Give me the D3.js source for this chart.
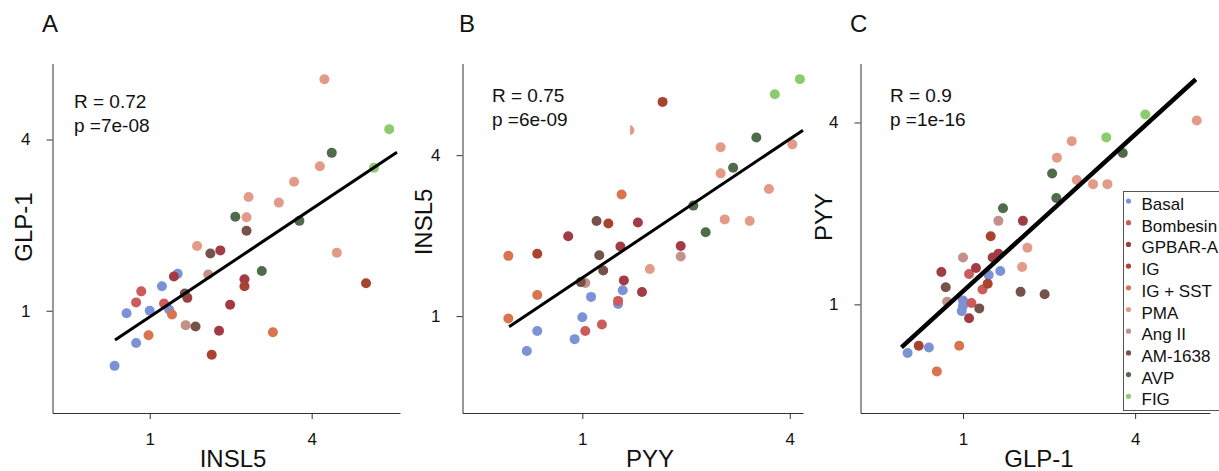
<!DOCTYPE html>
<html>
<head>
<meta charset="utf-8">
<script src="https://cdn.jsdelivr.net/npm/d3@7"></script>
<style>
body { margin: 0; background: #fff; }
svg { font-family: "Liberation Sans", Arial, sans-serif; }
</style>
</head>
<body>
<svg id="chart" width="1219" height="471"></svg>
<script>
// treatment groups and their colours (legend order = draw order)
const GROUPS = ["Basal", "Bombesin", "GPBAR-A", "IG", "IG + SST", "PMA", "Ang II", "AM-1638", "AVP", "FIG"];
const GROUP_COLORS = ["#7b93d6", "#cd5b5c", "#a33b44", "#a8432f", "#d9744f", "#e39b88", "#c2918a", "#75524a", "#4f6b49", "#8ecb6f"];

const PANEL_LETTERS = ["A", "B", "C"];
const X_TITLES = ["INSL5", "PYY", "GLP-1"];
const Y_TITLES = ["GLP-1", "INSL5", "PYY"];
const R_LABELS = ["R = 0.72", "R = 0.75", "R = 0.9"];
const P_LABELS = ["p =7e-08", "p =6e-09", "p =1e-16"];
const TICK_VALUES = [1, 4];

// axis extents (fold change, log2 axes)
const X_DOMAINS = [[0.435, 8.52], [0.449, 4.37], [0.438, 7.31]];
const Y_DOMAINS = [[0.437, 7.40], [0.434, 8.81], [0.437, 6.27]];

// regression line ends: [x0, y0, x1, y1]
const FIT_LINES = [[0.743, 0.789, 8.30, 3.61], [0.613, 0.912, 4.37, 4.96], [0.609, 0.721, 6.52, 5.56]];

// panel A: x = INSL5, y = GLP-1
const pointsA = [
    ["Basal", 0.74, 0.64], ["Basal", 0.82, 0.98], ["Basal", 0.89, 0.77], ["Basal", 1.00, 1.00],
    ["Basal", 1.11, 1.22], ["Basal", 1.27, 1.35], ["Basal", 1.18, 1.01],
    ["Bombesin", 0.93, 1.17], ["Bombesin", 0.89, 1.07], ["Bombesin", 1.13, 1.06],
    ["GPBAR-A", 1.23, 1.32], ["GPBAR-A", 1.83, 1.63], ["GPBAR-A", 1.38, 1.11], ["GPBAR-A", 1.81, 0.85],
    ["GPBAR-A", 1.99, 1.05], ["GPBAR-A", 2.25, 1.29],
    ["IG", 1.70, 0.70], ["IG", 2.25, 1.22], ["IG", 6.37, 1.25],
    ["IG + SST", 1.21, 0.97], ["IG + SST", 0.99, 0.82], ["IG + SST", 2.87, 0.84],
    ["PMA", 1.50, 1.69], ["PMA", 4.46, 6.51], ["PMA", 4.29, 3.22], ["PMA", 3.44, 2.84],
    ["PMA", 3.02, 2.40], ["PMA", 2.33, 2.51], ["PMA", 2.29, 2.13], ["PMA", 4.96, 1.60],
    ["Ang II", 1.65, 1.34], ["Ang II", 1.36, 0.89],
    ["AM-1638", 1.68, 1.59], ["AM-1638", 1.35, 1.15], ["AM-1638", 1.48, 0.88], ["AM-1638", 2.29, 1.91],
    ["AVP", 4.75, 3.59], ["AVP", 2.08, 2.14], ["AVP", 3.60, 2.07], ["AVP", 2.61, 1.38],
    ["FIG", 7.77, 4.35], ["FIG", 6.82, 3.18]
];

// panel B: x = PYY, y = INSL5
const pointsB = [
    ["Basal", 1.31, 1.25], ["Basal", 1.06, 1.18], ["Basal", 1.27, 1.11], ["Basal", 1.00, 0.99],
    ["Basal", 0.74, 0.88], ["Basal", 0.95, 0.82], ["Basal", 0.69, 0.74],
    ["Bombesin", 1.27, 1.14], ["Bombesin", 1.14, 0.93], ["Bombesin", 1.02, 0.88],
    ["GPBAR-A", 0.91, 1.99], ["GPBAR-A", 1.29, 1.82], ["GPBAR-A", 1.32, 1.36], ["GPBAR-A", 1.45, 2.24],
    ["GPBAR-A", 1.93, 1.83], ["GPBAR-A", 1.49, 1.23],
    ["IG", 1.19, 2.22], ["IG", 0.74, 1.71], ["IG", 1.71, 6.33],
    ["IG + SST", 1.30, 2.85], ["IG + SST", 0.61, 1.68], ["IG + SST", 0.74, 1.20], ["IG + SST", 0.61, 0.98],
    ["PMA", 1.37, 4.96], ["PMA", 2.52, 4.28], ["PMA", 4.07, 4.39], ["PMA", 2.52, 3.42],
    ["PMA", 3.48, 2.99], ["PMA", 2.59, 2.30], ["PMA", 3.06, 2.27], ["PMA", 1.57, 1.50],
    ["Ang II", 1.02, 1.33], ["Ang II", 1.93, 1.67],
    ["AM-1638", 1.10, 2.27], ["AM-1638", 1.12, 1.69], ["AM-1638", 1.15, 1.48], ["AM-1638", 0.99, 1.34],
    ["AVP", 3.20, 4.66], ["AVP", 2.74, 3.59], ["AVP", 2.10, 2.59], ["AVP", 2.28, 2.06],
    ["FIG", 4.28, 7.70], ["FIG", 3.62, 6.76]
];

// panel C: x = GLP-1, y = PYY
const pointsC = [
    ["Basal", 1.23, 1.25], ["Basal", 1.35, 1.29], ["Basal", 1.00, 1.03], ["Basal", 0.99, 0.95],
    ["Basal", 1.00, 0.99], ["Basal", 0.76, 0.72], ["Basal", 0.64, 0.69],
    ["Bombesin", 1.05, 1.26], ["Bombesin", 1.17, 1.12], ["Bombesin", 1.07, 1.01],
    ["GPBAR-A", 1.62, 1.89], ["GPBAR-A", 1.33, 1.47], ["GPBAR-A", 1.27, 1.43], ["GPBAR-A", 0.84, 1.28],
    ["GPBAR-A", 1.11, 1.32], ["GPBAR-A", 1.05, 0.90],
    ["IG", 1.25, 1.68], ["IG", 1.22, 1.17], ["IG", 0.70, 0.73],
    ["IG + SST", 0.97, 0.73], ["IG + SST", 0.81, 0.60],
    ["PMA", 1.68, 1.54], ["PMA", 1.61, 1.33], ["PMA", 6.57, 4.06], ["PMA", 2.40, 3.47],
    ["PMA", 2.13, 3.06], ["PMA", 2.50, 2.58], ["PMA", 2.85, 2.50], ["PMA", 3.20, 2.50],
    ["Ang II", 1.33, 1.89], ["Ang II", 1.00, 1.43], ["Ang II", 0.88, 1.02],
    ["AM-1638", 0.87, 1.14], ["AM-1638", 1.14, 0.97], ["AM-1638", 1.59, 1.10], ["AM-1638", 1.93, 1.08],
    ["AVP", 1.38, 2.08], ["AVP", 3.62, 3.17], ["AVP", 2.05, 2.71], ["AVP", 2.12, 2.25],
    ["FIG", 4.34, 4.25], ["FIG", 3.17, 3.57]
];

const PANEL_POINTS = [pointsA, pointsB, pointsC];

// pixel layout of each panel
const frames = [
    {left: 52.5, right: 400, top: 63.5, bottom: 413, letterX: 42, statX: 74, statY: 108, yTitleX: 32, yTitleY: 227, xTitleX: 233, lineWidth: 3},
    {left: 462.5, right: 803, top: 63.5, bottom: 413, letterX: 459, statX: 492, statY: 102, yTitleX: 432, yTitleY: 222, xTitleX: 650, lineWidth: 3},
    {left: 860.5, right: 1210, top: 63.5, bottom: 413, letterX: 850, statX: 890, statY: 102, yTitleX: 832, yTitleY: 217, xTitleX: 1039, lineWidth: 4.5}
];

const color = d3.scaleOrdinal().domain(GROUPS).range(GROUP_COLORS);
const svg = d3.select("#chart");

function drawPanel(i) {
    var f = frames[i];
    var x = d3.scaleLog().base(2).domain(X_DOMAINS[i]).range([f.left, f.right]);
    var y = d3.scaleLog().base(2).domain(Y_DOMAINS[i]).range([f.bottom, f.top]);
    var g = svg.append("g");

    // points, grouped so later treatments sit on top
    var pts = PANEL_POINTS[i].slice().sort(function (a, b) {
        return GROUPS.indexOf(a[0]) - GROUPS.indexOf(b[0]);
    });
    g.append("g").selectAll("circle")
        .data(pts)
        .enter().append("circle")
        .attr("cx", function (d) { return x(d[1]); })
        .attr("cy", function (d) { return y(d[2]); })
        .attr("r", 5)
        .attr("fill", function (d) { return color(d[0]); });

    // regression line
    var fit = FIT_LINES[i];
    g.append("line")
        .attr("x1", x(fit[0])).attr("y1", y(fit[1]))
        .attr("x2", x(fit[2])).attr("y2", y(fit[3]))
        .attr("stroke", "#000")
        .attr("stroke-width", f.lineWidth)
        .attr("stroke-linecap", "butt");

    // axes
    var xAxis = d3.axisBottom(x).tickValues(TICK_VALUES).tickFormat(d3.format("d"))
        .tickSize(6).tickSizeOuter(0).tickPadding(14);
    var yAxis = d3.axisLeft(y).tickValues(TICK_VALUES).tickFormat(d3.format("d"))
        .tickSize(6).tickSizeOuter(0).tickPadding(16);

    var gx = g.append("g").attr("transform", "translate(0," + f.bottom + ")").call(xAxis);
    var gy = g.append("g").attr("transform", "translate(" + f.left + ",0)").call(yAxis);
    [gx, gy].forEach(function (a) {
        a.select(".domain").attr("stroke", "#333");
        a.selectAll(".tick line").attr("stroke", "#333");
        a.selectAll(".tick text").attr("font-size", 17).attr("fill", "#111")
            .attr("font-family", "Liberation Sans, Arial, sans-serif");
    });

    // titles
    g.append("text")
        .attr("x", f.xTitleX).attr("y", 467)
        .attr("text-anchor", "middle")
        .attr("font-size", 24).attr("fill", "#111")
        .text(X_TITLES[i]);
    g.append("text")
        .attr("transform", "translate(" + f.yTitleX + "," + f.yTitleY + ") rotate(-90)")
        .attr("text-anchor", "middle")
        .attr("font-size", 24).attr("fill", "#111")
        .text(Y_TITLES[i]);
    g.append("text")
        .attr("x", f.letterX).attr("y", 32)
        .attr("font-size", 24).attr("fill", "#111")
        .text(PANEL_LETTERS[i]);

    // stats label on a white box
    g.append("rect")
        .attr("x", f.statX - 4).attr("y", f.statY - 22)
        .attr("width", 142).attr("height", 56)
        .attr("fill", "#fff");
    g.append("text")
        .attr("x", f.statX).attr("y", f.statY)
        .attr("font-size", 19).attr("fill", "#111")
        .text(R_LABELS[i]);
    g.append("text")
        .attr("x", f.statX).attr("y", f.statY + 24)
        .attr("font-size", 19).attr("fill", "#111")
        .text(P_LABELS[i]);
}

for (var i = 0; i < frames.length; i++) {
    drawPanel(i);
}

// legend in panel C
var legend = svg.append("g").attr("transform", "translate(1123.5,191.5)");
legend.append("rect")
    .attr("width", 120).attr("height", 219)
    .attr("fill", "#fff").attr("stroke", "#555").attr("stroke-width", 1);
var item = legend.selectAll("g.item")
    .data(GROUPS)
    .enter().append("g")
    .attr("class", "item")
    .attr("transform", function (d, k) { return "translate(0," + (18.5 + k * 21.7) + ")"; });
item.append("circle")
    .attr("cx", 5).attr("cy", -9)
    .attr("r", 2.6)
    .attr("fill", function (d) { return color(d); });
item.append("text")
    .attr("x", 18).attr("y", 0)
    .attr("font-size", 17).attr("fill", "#111")
    .text(function (d) { return d; });
</script>
</body>
</html>
